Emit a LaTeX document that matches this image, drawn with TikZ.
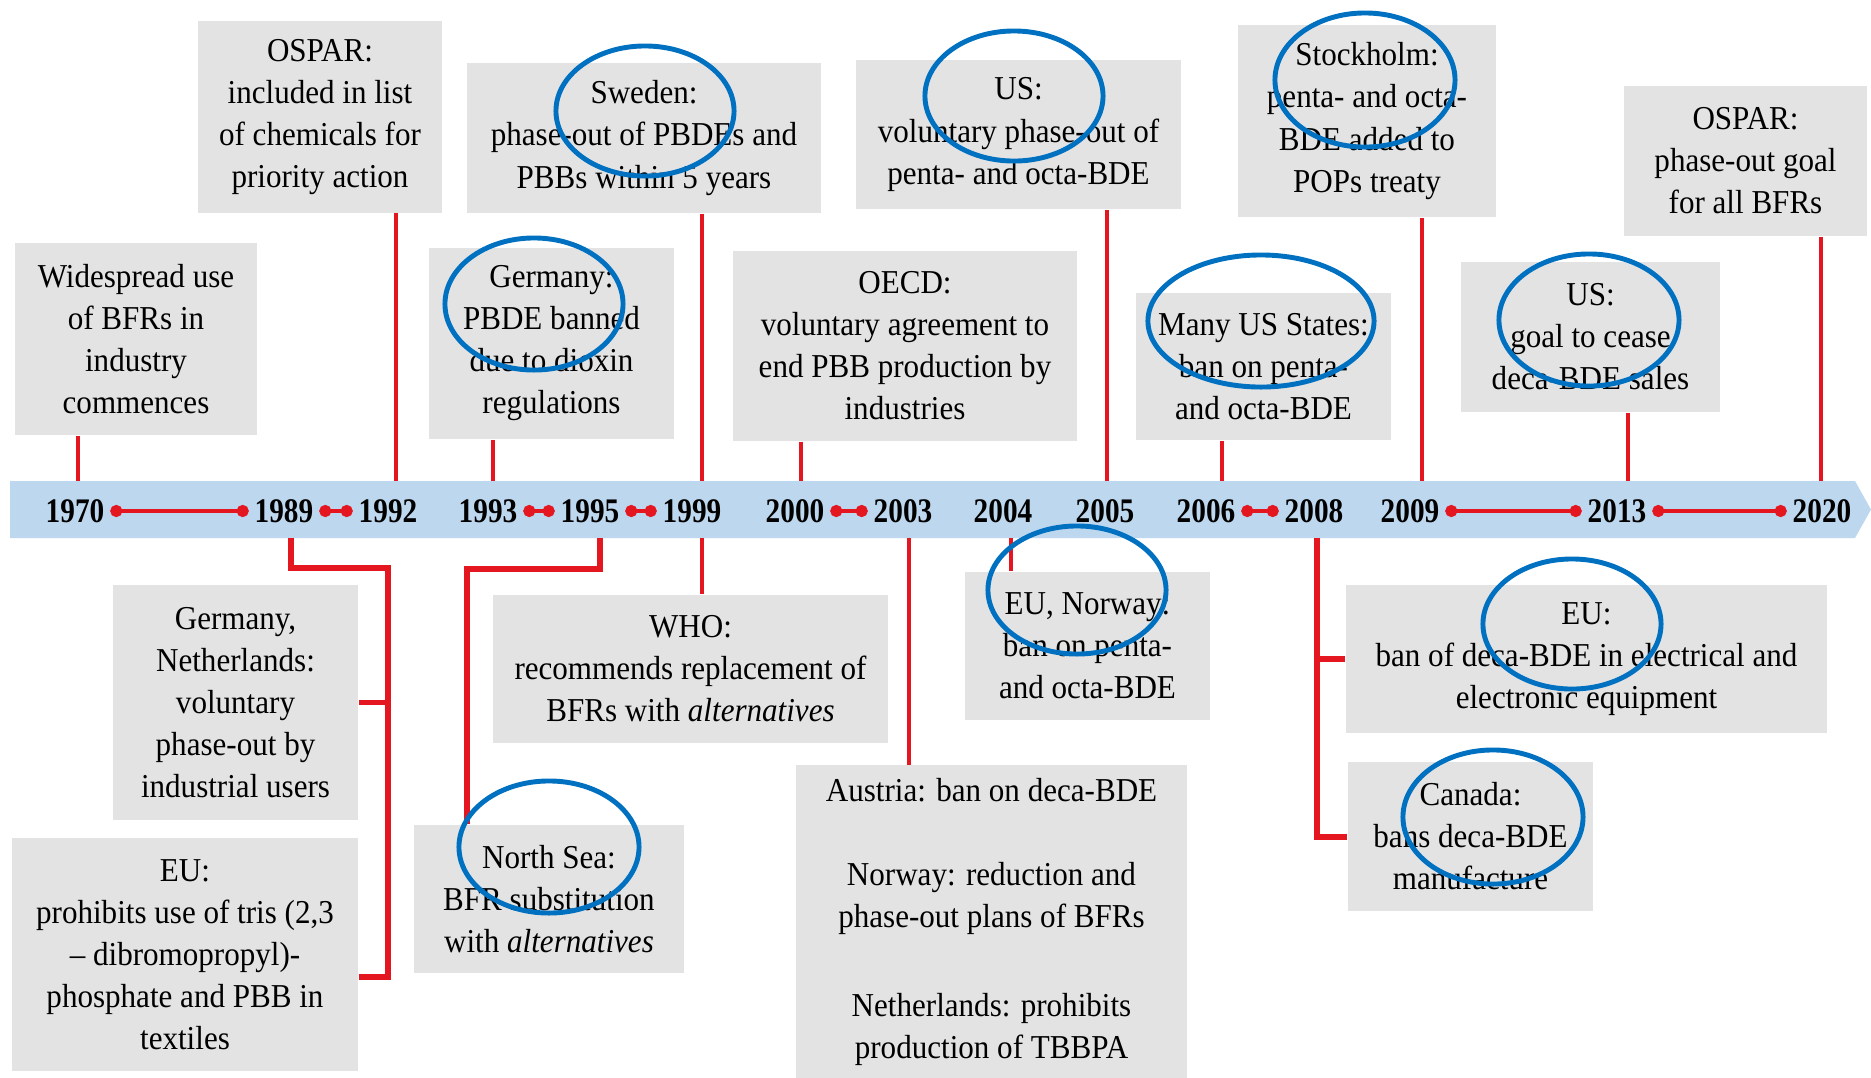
\documentclass[tikz,border=0pt]{standalone}
\usepackage{fontspec}
\setmainfont{Liberation Serif}[FakeStretch=0.93]
\newfontfamily\yearfont{Liberation Serif}[FakeStretch=0.85]
\usetikzlibrary{arrows.meta}
\definecolor{boxgray}{RGB}{227,227,227}
\definecolor{bandblue}{RGB}{189,215,238}
\definecolor{tlred}{RGB}{228,22,32}
\definecolor{circblue}{RGB}{0,112,192}
\begin{document}
\begin{tikzpicture}[x=0.01cm, y=-0.01cm,
  bx/.style={fill=boxgray, inner sep=0pt, align=center, font=\fontsize{9.5}{11.95}\selectfont},
  yr/.style={font=\yearfont\bfseries\fontsize{9.8}{11}\selectfont, inner sep=0pt, outer xsep=0.06cm},
  rl/.style={draw=tlred, line width=1.2pt},
  rb/.style={draw=tlred, line width=1.6pt},
  dl/.style={draw=tlred, line width=1.1pt, {Circle[length=0.12cm,width=0.12cm]}-{Circle[length=0.12cm,width=0.12cm]}},
  el/.style={draw=circblue, line width=1.4pt}]
\useasboundingbox (0,0) rectangle (1871,1078);
\fill[white] (0,0) rectangle (1871,1078);

% band
\fill[bandblue] (10,481) -- (1855,481) -- (1871,509.5) -- (1855,538) -- (10,538) -- cycle;

% boxes top
\node[bx, minimum width=2.42cm, minimum height=1.92cm] (w70) at (136,339) {Widespread use\\of BFRs in\\industry\\commences};
\node[bx, minimum width=2.44cm, minimum height=1.91cm] (ospar1) at (320,117) {OSPAR:\\included in list\\of chemicals for\\priority action};
\node[bx, minimum width=3.54cm, minimum height=1.50cm] (sweden) at (644,138) {Sweden:\\phase-out of PBDEs and\\PBBs within 5 years};
\node[bx, minimum width=2.45cm, minimum height=1.91cm] (ger93) at (551.5,343.5) {Germany:\\PBDE banned\\due to dioxin\\regulations};
\node[bx, minimum width=3.44cm, minimum height=1.90cm] (oecd) at (905,346) {OECD:\\voluntary agreement to\\end PBB production by\\industries};
\node[bx, minimum width=3.25cm, minimum height=1.49cm] (us05) at (1018.5,134.5) {US:\\voluntary phase-out of\\penta- and octa-BDE};
\node[bx, minimum width=2.58cm, minimum height=1.92cm] (stock) at (1367,121) {Stockholm:\\penta- and octa-\\BDE added to\\POPs treaty};
\node[bx, minimum width=2.55cm, minimum height=1.47cm] (states) at (1263.5,366.5) {Many US States:\\ban on penta-\\and octa-BDE};
\node[bx, minimum width=2.59cm, minimum height=1.50cm] (us13) at (1590.5,337) {US:\\goal to cease\\deca-BDE sales};
\node[bx, minimum width=2.43cm, minimum height=1.50cm] (ospar2) at (1745.5,161) {OSPAR:\\phase-out goal\\for all BFRs};

% boxes bottom
\node[bx, minimum width=2.45cm, minimum height=2.35cm] (gernl) at (235.5,702.5) {Germany,\\Netherlands:\\voluntary\\phase-out by\\industrial users};
\node[bx, minimum width=3.46cm, minimum height=2.33cm] (eu89) at (185,954.5) {EU:\\prohibits use of tris (2,3\\-- dibromopropyl)-\\phosphate and PBB in\\textiles};
\node[bx, minimum width=2.70cm, minimum height=1.48cm] (nsea) at (549,899) {North Sea:\\BFR substitution\\with \textit{alternatives}};
\node[bx, minimum width=3.95cm, minimum height=1.48cm] (who) at (690.5,669) {WHO:\\recommends replacement of\\BFRs with \textit{alternatives}};
\node[bx, minimum width=3.91cm, minimum height=3.13cm] (aus) at (991.5,922) {Austria: ban on deca-BDE\\[0.41cm]Norway: reduction and\\phase-out plans of BFRs\\[0.47cm]Netherlands: prohibits\\production of TBBPA};
\node[bx, minimum width=2.45cm, minimum height=1.48cm] (eunor) at (1087.5,646) {EU, Norway:\\ban on penta-\\and octa-BDE};
\node[bx, minimum width=4.81cm, minimum height=1.48cm] (eudeca) at (1586.5,659) {EU:\\ban of deca-BDE in electrical and\\electronic equipment};
\node[bx, minimum width=2.45cm, minimum height=1.49cm] (canada) at (1470.5,836.5) {Canada:\\bans deca-BDE\\manufacture};

% attachment coordinates on band
\coordinate (a1970) at (78,481);
\coordinate (a1992) at (396,481);
\coordinate (a1993) at (493,481);
\coordinate (a1999) at (702,481);
\coordinate (a2000) at (801,481);
\coordinate (a2005) at (1107,481);
\coordinate (a2006) at (1222,481);
\coordinate (a2009) at (1422,481);
\coordinate (a2013) at (1628,481);
\coordinate (a2020) at (1821,481);
\coordinate (b1989) at (291,538);
\coordinate (b1995) at (600,538);
\coordinate (b1999) at (702,538);
\coordinate (b2003) at (909,538);
\coordinate (b2004) at (1011,538);
\coordinate (b2008) at (1317,538);
\coordinate (k89a) at (388,568);
\coordinate (k89b) at (388,977);
\coordinate (k95a) at (467,569);
\coordinate (k08) at (1317,837);

% top connectors
\draw[rl] (a1970 |- w70.south) -- (a1970);
\draw[rl] (a1992 |- ospar1.south) -- (a1992);
\draw[rl] (a1993 |- ger93.south) -- (a1993);
\draw[rl] (a1999 |- sweden.south) -- (a1999);
\draw[rl] (a2000 |- oecd.south) -- (a2000);
\draw[rl] (a2005 |- us05.south) -- (a2005);
\draw[rl] (a2006 |- states.south) -- (a2006);
\draw[rl] (a2009 |- stock.south) -- (a2009);
\draw[rl] (a2013 |- us13.south) -- (a2013);
\draw[rl] (a2020 |- ospar2.south) -- (a2020);

% bottom connectors
\draw[rb, line join=miter] (b1989) |- (k89a) -- (k89b) -- (k89b -| eu89.east);
\draw[rb] (gernl.east) -- (gernl.east -| k89a);
\draw[rb, line join=miter] (b1995) |- (k95a) -- (k95a |- nsea.north);
\draw[rl] (b1999) -- (b1999 |- who.north);
\draw[rl] (b2003) -- (b2003 |- aus.north);
\draw[rl] (b2004) -- (b2004 |- eunor.north);
\draw[rb, line join=miter] (b2008) -- (k08) -- (canada.west |- k08);
\draw[rb] (b2008 |- eudeca.west) -- (eudeca.west);

% years
\node[yr] (y1970) at (75,511) {1970};
\node[yr] (y1989) at (284,511) {1989};
\node[yr] (y1992) at (388,511) {1992};
\node[yr] (y1993) at (488,511) {1993};
\node[yr] (y1995) at (590,511) {1995};
\node[yr] (y1999) at (692,511) {1999};
\node[yr] (y2000) at (795,511) {2000};
\node[yr] (y2003) at (903,511) {2003};
\node[yr] (y2004) at (1003,511) {2004};
\node[yr] (y2005) at (1105,511) {2005};
\node[yr] (y2006) at (1206,511) {2006};
\node[yr] (y2008) at (1314,511) {2008};
\node[yr] (y2009) at (1410,511) {2009};
\node[yr] (y2013) at (1617,511) {2013};
\node[yr] (y2020) at (1822,511) {2020};

\draw[dl] (y1970) -- (y1989);
\draw[dl] (y1989) -- (y1992);
\draw[dl] (y1993) -- (y1995);
\draw[dl] (y1995) -- (y1999);
\draw[dl] (y2000) -- (y2003);
\draw[dl] (y2006) -- (y2008);
\draw[dl] (y2009) -- (y2013);
\draw[dl] (y2013) -- (y2020);

% blue ellipses
\draw[el] (645,111) ellipse [x radius=0.89cm, y radius=0.65cm];
\draw[el] (534,304) ellipse [x radius=0.89cm, y radius=0.66cm];
\draw[el] (1014,96) ellipse [x radius=0.89cm, y radius=0.65cm];
\draw[el] (1365,80) ellipse [x radius=0.90cm, y radius=0.67cm];
\draw[el] (1261,321) ellipse [x radius=1.13cm, y radius=0.66cm];
\draw[el] (1589,320) ellipse [x radius=0.90cm, y radius=0.66cm];
\draw[el] (1077,590) ellipse [x radius=0.89cm, y radius=0.64cm];
\draw[el] (1572,624) ellipse [x radius=0.89cm, y radius=0.65cm];
\draw[el] (1493,817) ellipse [x radius=0.90cm, y radius=0.67cm];
\draw[el] (549,847) ellipse [x radius=0.90cm, y radius=0.66cm];
\end{tikzpicture}
\end{document}
